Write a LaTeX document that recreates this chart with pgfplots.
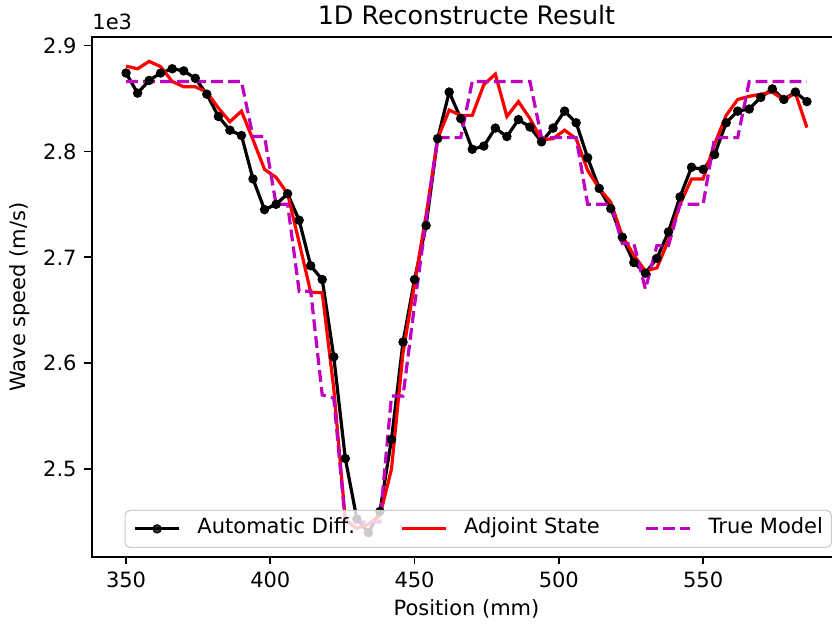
\documentclass[border=0pt]{standalone}
\usepackage{fontspec}
\setmainfont{DejaVu Sans}
\usepackage{pgfplots}
\usepackage{pgfplotstable}
\pgfplotsset{compat=1.18}

\definecolor{mplm}{rgb}{0.75,0,0.75}
\definecolor{legframe}{gray}{0.8}

% x: position (mm); ad: automatic differentiation; as: adjoint state; tm: true model (m/s)
\pgfplotstableread{
x   ad    as      tm
350 2874  2880.5  2866
354 2855  2878    2866
358 2867  2885    2866
362 2874  2880    2866
366 2878  2866    2866
370 2876  2861    2866
374 2869  2861    2866
378 2854  2856    2866
382 2833  2841    2866
386 2820  2828    2866
390 2815  2838    2866
394 2774  2811    2814
398 2745  2783    2814
402 2750  2775.5  2750
406 2760  2760    2750
410 2735  2714    2668
414 2692  2667    2668
418 2679  2666.5  2570
422 2606  2576    2567
426 2510  2452    2450
430 2453  2444    2450
434 2440  2448    2450
438 2460  2456    2450
442 2528  2500    2569
446 2620  2610    2569
450 2679  2675    2655
454 2730  2740    2735
458 2812  2812    2813
462 2856  2839    2813
466 2831  2834    2813
470 2802  2834    2866
474 2805  2863    2866
478 2822  2873    2866
482 2814  2833    2866
486 2830  2847    2866
490 2823  2831    2866
494 2809  2811    2813
498 2822  2812    2813
502 2838  2820    2813
506 2827  2812    2813
510 2794  2782    2750
514 2765  2765    2750
518 2746  2752    2750
522 2719  2720    2713
526 2695  2702    2713
530 2685  2687    2670
534 2699  2690    2711
538 2724  2716    2711
542 2757  2750    2750
546 2785  2774    2750
550 2783  2774    2750
554 2797  2807    2813
558 2827  2834    2813
562 2838  2849    2813
566 2840  2852    2866
570 2851  2854    2866
574 2859  2856    2866
578 2849  2848.5  2866
582 2856  2855    2866
586 2847  2822.5  2866
}\speeds

\begin{document}
\begin{tikzpicture}[font=\fontsize{10.5}{12.6}\selectfont]
\begin{axis}[
  at={(0,0)}, anchor=south west,
  scale only axis, width=374.5pt, height=260pt,
  xmin=338.2, xmax=597.8, ymin=2417, ymax=2908,
  xtick={350,400,450,500,550},
  ytick={2500,2600,2700,2800,2900},
  yticklabels={2.5,2.6,2.7,2.8,2.9},
  /pgf/number format/assume math mode=true,
  tick pos=left, tick align=outside,
  major tick length=3.75pt,
  every tick/.style={black, line width=0.85pt},
  axis line style={line width=0.85pt},
  xticklabel style={inner sep=0pt, anchor=north, yshift=-3.75pt},
  yticklabel style={inner sep=0pt, anchor=east, xshift=-3.75pt},
  every axis title shift=0pt,
  title={1D Reconstructe Result},
  title style={at={(rel axis cs:0.5,1)}, anchor=base, yshift=6.4pt, inner sep=0pt,
    font=\fontsize{12.7}{15}\selectfont},
  xlabel={Position (mm)},
  xlabel style={at={(rel axis cs:0.5,0)}, anchor=north, yshift=-21pt, inner sep=0pt},
  legend columns=3,
  legend cell align=left,
  legend image code/.code={
    \draw[mark repeat=2, mark phase=2, #1] plot coordinates {(0pt,0pt) (11pt,0pt) (22pt,0pt)};
  },
  legend style={
    at={(rel axis cs:1,0)}, anchor=south east, xshift=-4.5pt, yshift=4.5pt,
    draw=legframe, line width=0.6pt, rounded corners=2.5pt,
    fill=white, fill opacity=0.8, draw opacity=1, text opacity=1,
    inner xsep=4.2pt, inner ysep=4.2pt,
    nodes={inner sep=0pt, text depth=0.25em, text height=0.76em},
    /tikz/every odd column/.append style={column sep=8.4pt},
    /tikz/every even column/.append style={column sep=22.5pt},
  },
  extra description/.code={
    \node[anchor=south west, inner sep=0pt] at (rel axis cs:0,1) [yshift=3.5pt] {1e3};
    \node[rotate=90, anchor=south, inner sep=0pt] at ([xshift=-31pt]rel axis cs:0,0.5) {Wave speed (m/s)};
  },
]
\addplot[black, line width=1.6pt, mark=*, mark size=2.1pt,
  mark options={solid, line width=0.5pt, fill=black}] table[x=x, y=ad] {\speeds};
\addlegendentry{Automatic Diff.}
\addplot[red, line width=1.6pt, no markers] table[x=x, y=as] {\speeds};
\addlegendentry{Adjoint State}
\addplot[mplm, line width=1.6pt, no markers, dash pattern=on 5.9pt off 2.6pt] table[x=x, y=tm] {\speeds};
\addlegendentry{True Model}
\end{axis}
\pgfresetboundingbox
\useasboundingbox (-46pt,-35pt) rectangle (370pt,278.5pt);
\end{tikzpicture}
\end{document}
